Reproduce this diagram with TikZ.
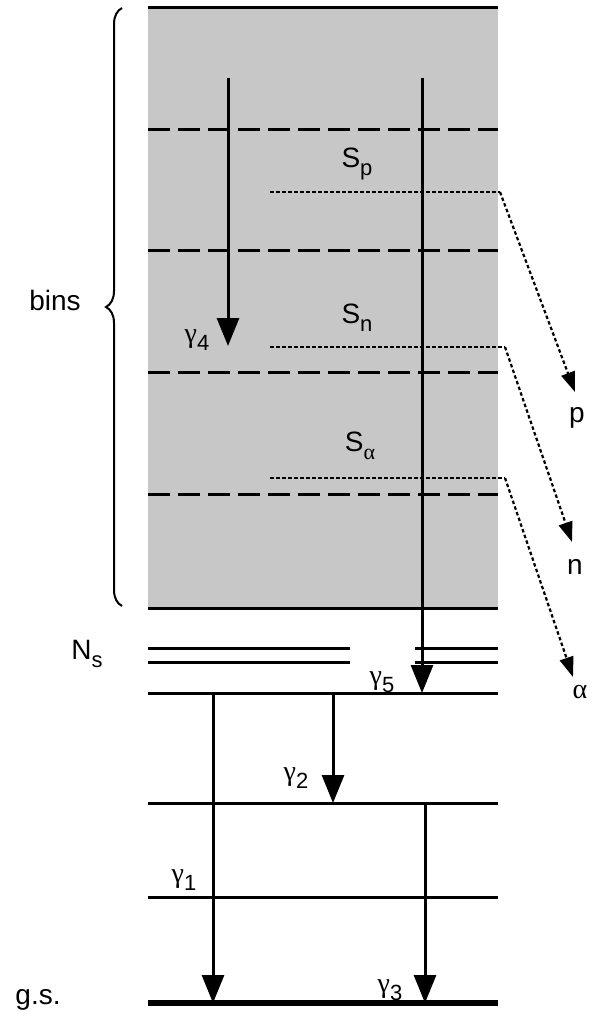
\documentclass[tikz,border=0pt]{standalone}
\usepackage{fontspec}
\setmainfont{Liberation Sans}
\newfontfamily\grk{Liberation Serif}
\usetikzlibrary{arrows.meta,decorations.pathreplacing}
\newcommand{\sbx}[1]{\raisebox{-0.28em}{\fontsize{22}{24}\selectfont #1}}
\newcommand{\gm}[1]{{\grk γ}\sbx{#1}}
\begin{document}
\begin{tikzpicture}[x=1pt,y=-1pt,
  lvl/.style={line width=3pt},
  dsh/.style={line width=3pt,dash pattern=on 22pt off 8pt},
  dot/.style={line width=2.2pt,dash pattern=on 3.5pt off 2.5pt},
  gam/.style={line width=3pt,-{Triangle[width=22pt,length=28pt]}},
  dgam/.style={dot,-{Triangle[width=14pt,length=20pt]}},
  lab/.style={font=\fontsize{28}{32}\selectfont,inner sep=0pt}]
\useasboundingbox (0,0) rectangle (600,1027);
\fill[fill=black!22] (148,8) rectangle (498,608);
\draw[lvl] (148,8) -- (498,8);
\draw[lvl] (148,608) -- (498,608);
\foreach \y in {130,250,372,494} \draw[dsh] (148,\y) -- (498,\y);
\coordinate (sp0) at (270,192); \coordinate (sp1) at (500,192); \coordinate (p) at (575,392);
\coordinate (sn0) at (270,347); \coordinate (sn1) at (505,347); \coordinate (n) at (572,542);
\coordinate (sa0) at (270,478); \coordinate (sa1) at (505,478); \coordinate (a) at (573,677);
\draw[dot] (sp0) -- (sp1); \draw[dgam] (sp1) -- (p);
\draw[dot] (sn0) -- (sn1); \draw[dgam] (sn1) -- (n);
\draw[dot] (sa0) -- (sa1); \draw[dgam] (sa1) -- (a);
\node[lab] (lsp) at (357,164) {S\sbx{p}};
\node[lab] (lsn) at (357,318) {S\sbx{n}};
\node[lab] (lsa) at (360,446) {S\sbx{\grk α}};
\node[lab] (pl) at (577,418) {p};
\node[lab] (nl) at (575,567) {n};
\node[lab] (al) at (580,692) {\grk α};
\draw[lvl] (148,648) -- (350,648); \draw[lvl] (415,648) -- (498,648);
\draw[lvl] (148,662) -- (350,662); \draw[lvl] (415,662) -- (498,662);
\draw[lvl] (148,693) -- (498,693);
\draw[lvl] (148,803) -- (498,803);
\draw[lvl] (148,897) -- (498,897);
\draw[line width=6pt] (148,1003) -- (498,1003);
\node[lab] (ns) at (87,654) {N\sbx{s}};
\node[lab] (gs) at (38,1000) {g.s.};
\coordinate (g4a) at (228,78); \coordinate (g4b) at (228,346);
\coordinate (g5a) at (422,78); \coordinate (g5b) at (422,693);
\coordinate (g2a) at (333,693); \coordinate (g2b) at (333,803);
\coordinate (g1a) at (213,693); \coordinate (g1b) at (213,1003);
\coordinate (g3a) at (425,803); \coordinate (g3b) at (425,1003);
\draw[gam] (g4a) -- (g4b); \draw[gam] (g5a) -- (g5b);
\draw[gam] (g2a) -- (g2b); \draw[gam] (g1a) -- (g1b);
\draw[gam] (g3a) -- (g3b);
\node[lab] (l4) at (197,340) {\gm{4}};
\node[lab] (l5) at (382,682) {\gm{5}};
\node[lab] (l2) at (296,778) {\gm{2}};
\node[lab] (l1) at (184,880) {\gm{1}};
\node[lab] (l3) at (390,990) {\gm{3}};
\coordinate (b1) at (122,8); \coordinate (b2) at (122,606);
\draw[line width=2pt,decorate,decoration={brace,amplitude=16pt}] (b2) -- (b1);
\node[lab] (bins) at (55,300) {bins};
\end{tikzpicture}
\end{document}
